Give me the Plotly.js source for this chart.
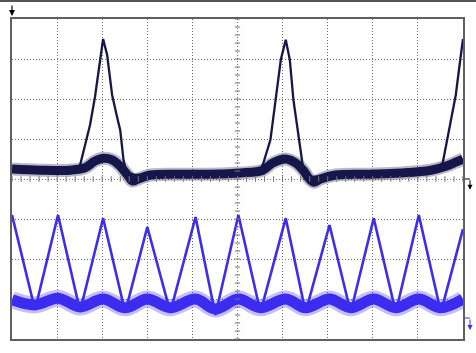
<!DOCTYPE html>
<html>
<head>
<meta charset="utf-8">
<script src="https://cdn.plot.ly/plotly-3.0.1.min.js"></script>
<style>html,body{margin:0;padding:0;background:#fff;}#chart{width:476px;height:353px;}</style>
</head>
<body>
<div id="chart"></div>
<script>
// Time in divisions (0..10), amplitude in divisions (-4..4)
const ch1BandX = [0, 0.62, 1.29, 1.62, 1.84, 2.02, 2.22, 2.40, 2.56, 2.67, 2.80, 3.07, 3.73, 4.40, 5.07, 5.56, 5.78, 6.07, 6.29, 6.47, 6.58, 6.69, 6.84, 7.18, 7.96, 8.62, 9.29, 9.62, 9.84, 10];
const ch1BandY = [0.25, 0.22, 0.22, 0.28, 0.45, 0.52, 0.48, 0.32, 0.10, -0.05, 0.0, 0.10, 0.12, 0.12, 0.15, 0.22, 0.40, 0.50, 0.40, 0.20, 0.02, -0.08, 0.0, 0.10, 0.12, 0.15, 0.22, 0.32, 0.42, 0.50];

const ch1SpikeX = [0, 1.07, 1.40, 1.51, 1.62, 1.73, 1.84, 1.93, 2.02, 2.11, 2.22, 2.33, 2.40, 2.47, 2.53, 2.73, 5.29, 5.47, 5.56, 5.73, 5.84, 5.96, 6.07, 6.16, 6.24, 6.36, 6.47, 6.60, 9.29, 9.40, 9.55, 9.65, 9.75, 9.84, 9.93, 10];
const ch1SpikeY = [0.20, 0.20, 0.25, 0.35, 0.85, 1.35, 2.05, 2.75, 3.50, 3.10, 2.10, 1.55, 1.22, 0.50, 0.18, 0.10, 0.15, 0.20, 0.35, 0.98, 1.98, 2.98, 3.48, 2.98, 1.98, 0.98, 0.15, 0.05, 0.18, 0.20, 0.40, 1.00, 1.60, 2.10, 2.90, 3.50];

const ch2TriX = [0, 0.51, 1.02, 1.51, 2.02, 2.51, 3.00, 3.51, 4.07, 4.51, 5.02, 5.51, 6.07, 6.51, 7.04, 7.51, 8.02, 8.51, 9.02, 9.51, 10];
const ch2TriY = [-0.90, -3.27, -0.90, -3.30, -0.98, -3.33, -1.20, -3.33, -0.95, -3.40, -0.90, -3.33, -0.98, -3.33, -1.15, -3.33, -0.98, -3.33, -0.90, -3.33, -1.25];

const ch2BandX = [0, 0.51, 1.02, 1.51, 2.02, 2.51, 3.00, 3.51, 4.07, 4.51, 5.02, 5.51, 6.07, 6.51, 7.04, 7.51, 8.02, 8.51, 9.02, 9.51, 10];
const ch2BandY = [-3.02, -3.15, -2.98, -3.20, -3.00, -3.22, -3.00, -3.22, -3.00, -3.25, -3.00, -3.22, -3.00, -3.22, -3.00, -3.22, -3.00, -3.22, -3.00, -3.22, -3.00];

const ch1Color = '#16164a';
const ch2Color = '#3b2cf0';

const traces = [
  {x: ch1BandX, y: ch1BandY, mode: 'lines', opacity: 0.3, line: {color: ch1Color, width: 13, shape: 'spline'}, hoverinfo: 'skip'},
  {x: ch1BandX, y: ch1BandY, mode: 'lines', line: {color: ch1Color, width: 9, shape: 'spline'}, hoverinfo: 'skip'},
  {x: ch1SpikeX, y: ch1SpikeY, mode: 'lines', line: {color: ch1Color, width: 2.3}, hoverinfo: 'skip'},
  {x: ch2BandX, y: ch2BandY, mode: 'lines', opacity: 0.3, line: {color: ch2Color, width: 17, shape: 'spline'}, hoverinfo: 'skip'},
  {x: ch2BandX, y: ch2BandY, mode: 'lines', line: {color: ch2Color, width: 11, shape: 'spline'}, hoverinfo: 'skip'},
  {x: ch2TriX, y: ch2TriY, mode: 'lines', line: {color: ch2Color, width: 2.6}, hoverinfo: 'skip'}
];

const W = 476, H = 353, L = 12, R = 13, T = 19, B = 14;
const pw = W - L - R, ph = H - T - B;
const shapes = [];
// centre graticule ticks
for (let i = 0; i <= 50; i++) {
  const xv = i * 0.2;
  shapes.push({type: 'line', xref: 'x', yref: 'y', x0: xv, x1: xv, y0: -0.07, y1: 0.07, line: {color: '#777', width: 1}});
}
for (let j = 0; j <= 40; j++) {
  const yv = -4 + j * 0.2;
  shapes.push({type: 'line', xref: 'x', yref: 'y', x0: 4.94, x1: 5.06, y0: yv, y1: yv, line: {color: '#777', width: 1}});
}
// top frame line
shapes.push({type: 'line', xref: 'paper', yref: 'paper', x0: -L / pw, x1: (W - L) / pw, y0: 1 + (T - 1) / ph, y1: 1 + (T - 1) / ph, line: {color: '#555', width: 2}});
// ground markers (horizontal part)
const px = v => (v - L) / pw;
shapes.push({type: 'line', xref: 'paper', yref: 'y', x0: px(465), x1: px(470), y0: 0.0, y1: 0.0, line: {color: '#000', width: 1}});
shapes.push({type: 'line', xref: 'paper', yref: 'y', x0: px(465), x1: px(470), y0: -3.475, y1: -3.475, line: {color: ch2Color, width: 1}});

const annotations = [
  {xref: 'paper', yref: 'paper', x: 0, y: 1 + 3 / ph, ax: 0, ay: -12, showarrow: true, arrowhead: 2, arrowsize: 1, arrowwidth: 1.2, arrowcolor: '#000', text: ''},
  {xref: 'paper', yref: 'y', x: px(470), y: -0.27, ax: 0, ay: -11, showarrow: true, arrowhead: 2, arrowsize: 1, arrowwidth: 1, arrowcolor: '#000', text: ''},
  {xref: 'paper', yref: 'y', x: px(470), y: -3.775, ax: 0, ay: -12, showarrow: true, arrowhead: 2, arrowsize: 1, arrowwidth: 1, arrowcolor: ch2Color, text: ''}
];

const gridStyle = {showgrid: true, gridcolor: '#707070', griddash: '1px,2px', gridwidth: 1,
  zeroline: false, showticklabels: false, ticks: '', showline: true, mirror: true, linecolor: '#606060', linewidth: 2, fixedrange: true};

const layout = {
  width: W, height: H,
  margin: {l: L, r: R, t: T, b: B, pad: 0},
  paper_bgcolor: '#fff', plot_bgcolor: '#fff',
  showlegend: false,
  xaxis: Object.assign({range: [0, 10], dtick: 1, tick0: 0}, gridStyle),
  yaxis: Object.assign({range: [-4, 4], dtick: 1, tick0: 0}, gridStyle),
  shapes: shapes,
  annotations: annotations
};

Plotly.newPlot('chart', traces, layout, {displayModeBar: false, staticPlot: true});
</script>
</body>
</html>
